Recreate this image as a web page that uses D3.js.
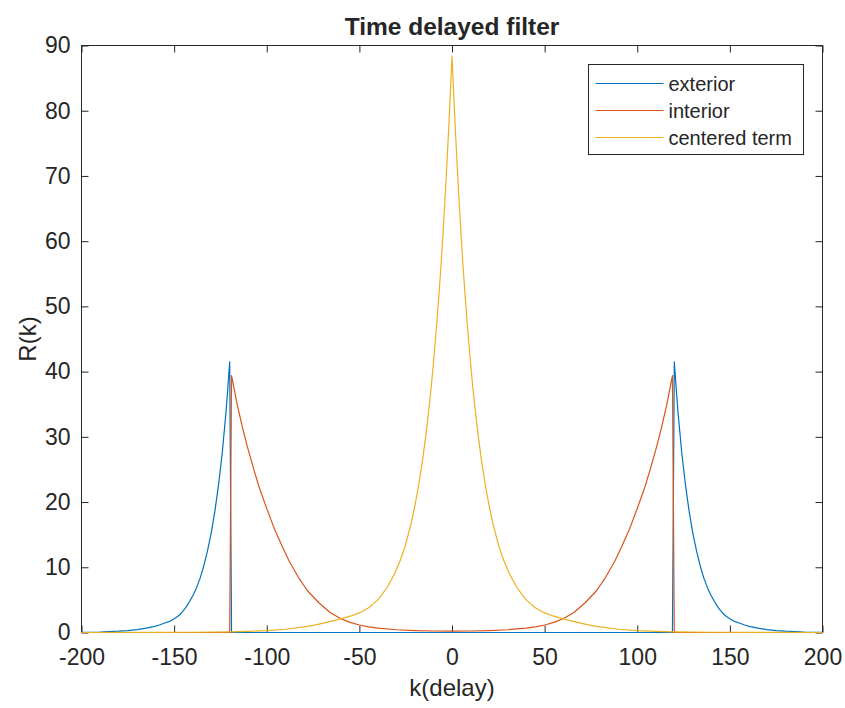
<!DOCTYPE html>
<html>
<head>
<meta charset="utf-8">
<script src="https://cdn.jsdelivr.net/npm/d3@7"></script>
<style>
  html, body { margin: 0; padding: 0; background: #ffffff; }
  svg { display: block; }
  text { font-family: "Liberation Sans", Arial, Helvetica, sans-serif; fill: #262626; }
</style>
</head>
<body>
<svg id="chart" width="845" height="708"></svg>
<script>
// ---------- data ----------
const xTicks = [-200, -150, -100, -50, 0, 50, 100, 150, 200];
const yTicks = [0, 10, 20, 30, 40, 50, 60, 70, 80, 90];
const seriesNames = ["exterior", "interior", "centered term"];

const kExterior = [-200, -190, -180, -175, -170, -165, -161, -158, -155, -152, -150, -148, -146, -144, -142, -140, -138, -136, -134, -132, -130, -128, -126, -124, -122, -121, -120, -119,
                   119, 120, 121, 122, 124, 126, 128, 130, 132, 134, 136, 138, 140, 142, 144, 146, 148, 150, 152, 155, 158, 161, 165, 170, 175, 180, 190, 200];
const exterior  = [0.03, 0.08, 0.2, 0.3, 0.45, 0.68, 0.9, 1.15, 1.45, 1.75, 2.1, 2.5, 3.0, 3.7, 4.6, 5.6, 6.8, 8.3, 10.2, 12.5, 15.2, 18.6, 22.7, 27.6, 33.8, 37.5, 41.5, 0,
                   0, 41.5, 37.5, 33.8, 27.6, 22.7, 18.6, 15.2, 12.5, 10.2, 8.3, 6.8, 5.6, 4.6, 3.7, 3.0, 2.5, 2.1, 1.75, 1.45, 1.15, 0.9, 0.68, 0.45, 0.3, 0.2, 0.08, 0.03];

const kInterior = [-200, -120, -119, -116, -113, -110, -107, -104, -100, -96, -92, -88, -83, -78, -72, -66, -60, -55, -50, -45, -40, -30, -20, -10, 0,
                   10, 20, 30, 40, 45, 50, 55, 60, 66, 72, 78, 83, 88, 92, 96, 100, 104, 107, 110, 113, 116, 119, 120, 200];
const interior  = [0, 0, 39.4, 35.0, 31.3, 28.0, 25.0, 22.2, 19.0, 16.0, 13.4, 11.0, 8.5, 6.4, 4.6, 3.1, 2.1, 1.55, 1.15, 0.87, 0.67, 0.42, 0.3, 0.23, 0.2,
                   0.23, 0.3, 0.42, 0.67, 0.87, 1.15, 1.55, 2.1, 3.1, 4.6, 6.4, 8.5, 11.0, 13.4, 16.0, 19.0, 22.2, 25.0, 28.0, 31.3, 35.0, 39.4, 0, 0];

const kCentered = [-200, -160, -140, -120, -110, -100, -90, -80, -75, -70, -65, -60, -55, -50, -45, -40, -35, -31, -28, -25, -22, -20, -18, -16, -14, -12, -11, -10, -9, -8, -7, -6, -5, -4, -3, -2, -1, 0,
                   1, 2, 3, 4, 5, 6, 7, 8, 9, 10, 11, 12, 14, 16, 18, 20, 22, 25, 28, 31, 35, 40, 45, 50, 55, 60, 65, 70, 75, 80, 90, 100, 110, 120, 140, 160, 200];
const centered  = [0, 0.015, 0.04, 0.1, 0.18, 0.3, 0.5, 0.85, 1.1, 1.4, 1.75, 2.1, 2.5, 3.0, 3.8, 5.0, 6.9, 9.0, 11.0, 13.5, 16.8, 19.5, 22.6, 26.2, 30.5, 35.5, 38.3, 41.4, 44.7, 48.2, 52, 56, 60.5, 65.3, 70.5, 76, 82, 88.4,
                   82, 76, 70.5, 65.3, 60.5, 56, 52, 48.2, 44.7, 41.4, 38.3, 35.5, 30.5, 26.2, 22.6, 19.5, 16.8, 13.5, 11.0, 9.0, 6.9, 5.0, 3.8, 3.0, 2.5, 2.1, 1.75, 1.4, 1.1, 0.85, 0.5, 0.3, 0.18, 0.1, 0.04, 0.015, 0];

// ---------- layout ----------
const plot = { left: 81.5, right: 822.5, top: 45.5, bottom: 632.5 };
const colors = ["#0072BD", "#D95319", "#EDB120"];
const axisColor = "#262626";

const svg = d3.select("#chart");
const x = d3.scaleLinear().domain([-200, 200]).range([plot.left, plot.right]);
const y = d3.scaleLinear().domain([0, 90]).range([plot.bottom, plot.top]);
const fmt = d => String(d);

// axes
const tickLen = 7;
const gx = svg.append("g").attr("transform", `translate(0,${plot.bottom})`)
  .call(d3.axisBottom(x).tickValues(xTicks).tickSizeInner(-tickLen).tickSizeOuter(0).tickPadding(16).tickFormat(fmt));
const gxTop = svg.append("g").attr("transform", `translate(0,${plot.top})`)
  .call(d3.axisTop(x).tickValues(xTicks).tickSizeInner(-tickLen).tickSizeOuter(0).tickFormat(""));
const gy = svg.append("g").attr("transform", `translate(${plot.left},0)`)
  .call(d3.axisLeft(y).tickValues(yTicks).tickSizeInner(-tickLen).tickSizeOuter(0).tickPadding(11).tickFormat(fmt));
const gyR = svg.append("g").attr("transform", `translate(${plot.right},0)`)
  .call(d3.axisRight(y).tickValues(yTicks).tickSizeInner(-tickLen).tickSizeOuter(0).tickFormat(""));

[gx, gxTop, gy, gyR].forEach(g => {
  g.select(".domain").remove();
  g.selectAll(".tick line").attr("stroke", axisColor).attr("stroke-width", 1);
  g.selectAll(".tick text").attr("fill", axisColor).style("font-size", "23px")
    .style("font-family", "'Liberation Sans', Arial, Helvetica, sans-serif");
});

// box
svg.append("rect")
  .attr("x", plot.left).attr("y", plot.top)
  .attr("width", plot.right - plot.left).attr("height", plot.bottom - plot.top)
  .attr("fill", "none").attr("stroke", axisColor).attr("stroke-width", 1);

// lines
const line = d3.line().x(d => x(d[0])).y(d => y(d[1]));
const series = [
  d3.zip(kExterior, exterior),
  d3.zip(kInterior, interior),
  d3.zip(kCentered, centered)
];
series.forEach((s, i) => {
  svg.append("path").datum(s)
    .attr("d", line)
    .attr("fill", "none")
    .attr("stroke", colors[i])
    .attr("stroke-width", 1.2)
    .attr("stroke-linejoin", "round");
});

// title & labels
svg.append("text").attr("x", (plot.left + plot.right) / 2).attr("y", 35)
  .attr("text-anchor", "middle").style("font-size", "24.5px").style("font-weight", "bold")
  .attr("fill", "#000").text("Time delayed filter");
svg.append("text").attr("x", (plot.left + plot.right) / 2).attr("y", 696)
  .attr("text-anchor", "middle").style("font-size", "24px").text("k(delay)");
svg.append("text").attr("transform", `translate(36,${(plot.top + plot.bottom) / 2}) rotate(-90)`)
  .attr("text-anchor", "middle").style("font-size", "24px").text("R(k)");

// legend
const lg = { x: 588.5, y: 64.5, w: 215, h: 90 };
svg.append("rect").attr("x", lg.x).attr("y", lg.y).attr("width", lg.w).attr("height", lg.h)
  .attr("fill", "#fff").attr("stroke", axisColor).attr("stroke-width", 1);
seriesNames.forEach((name, i) => {
  const cy = lg.y + 19 + i * 27;
  svg.append("line").attr("x1", lg.x + 7).attr("x2", lg.x + 75).attr("y1", cy).attr("y2", cy)
    .attr("stroke", colors[i]).attr("stroke-width", 1.2);
  svg.append("text").attr("x", lg.x + 80).attr("y", cy).attr("dy", "0.35em")
    .style("font-size", "20px").attr("fill", "#000").text(name);
});
</script>
</body>
</html>
